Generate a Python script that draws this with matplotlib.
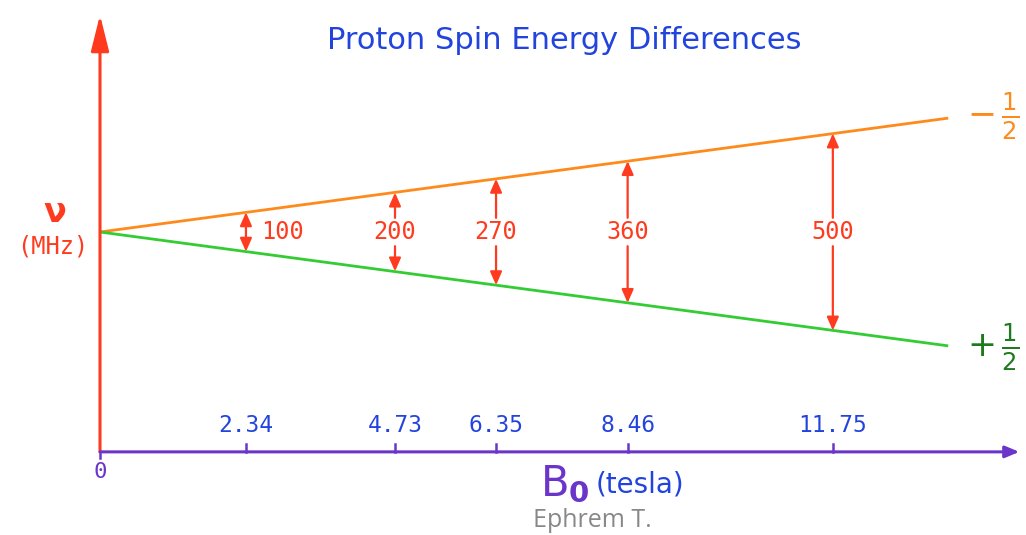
import matplotlib
matplotlib.use("Agg")
import matplotlib.pyplot as plt

# field strengths (tesla) and the matching proton resonance gaps (MHz)
b_fields = [2.34, 4.73, 6.35, 8.46, 11.75]
gaps_mhz = [100, 200, 270, 360, 500]
tick_labels = ["2.34", "4.73", "6.35", "8.46", "11.75"]

# spin levels drawn from B = 0 out to the right edge of the diagram
level_b = [0.0, 13.6]
upper_level = [0.0, 289.0]    # -1/2 state
lower_level = [0.0, -289.0]   # +1/2 state

ORANGE = "#ff8a1c"
GREEN = "#33cc33"
DARK_GREEN = "#1f7a1f"
RED = "#ff3b1f"
PURPLE = "#6a35c8"
BLUE = "#2244dd"

fig = plt.figure(figsize=(10.26, 5.35), dpi=100)
ax = fig.add_axes([0, 0, 1, 1])
ax.set_xlim(-1.6034, 14.847)
ax.set_ylim(-769.0, 588.8)
ax.axis("off")

y_axis_bottom = -558
y_axis_top = 551
x_axis_end = 14.74

# axes drawn as arrows
ax.annotate("", xy=(0, y_axis_top), xytext=(0, y_axis_bottom),
            arrowprops=dict(arrowstyle="-|>,head_length=1.0,head_width=0.25",
                            color=RED, lw=2.2, mutation_scale=22,
                            shrinkA=0, shrinkB=0))
ax.annotate("", xy=(x_axis_end, y_axis_bottom), xytext=(0, y_axis_bottom),
            arrowprops=dict(arrowstyle="-|>,head_length=0.6,head_width=0.25",
                            color=PURPLE, lw=2.2, mutation_scale=14,
                            shrinkA=0, shrinkB=0))

# energy levels
ax.plot(level_b, upper_level, color=ORANGE, lw=2.0, solid_capstyle="butt")
ax.plot(level_b, lower_level, color=GREEN, lw=2.0, solid_capstyle="butt")

# tick marks and labels on the field axis
for b, lab in zip(b_fields, tick_labels):
    ax.plot([b, b], [y_axis_bottom, y_axis_bottom + 20], color=PURPLE, lw=1.8)
    ax.text(b, y_axis_bottom + 38, lab, ha="center", va="bottom",
            color=BLUE, fontsize=16.5, family="DejaVu Sans Mono")
ax.plot([0, 0], [y_axis_bottom, y_axis_bottom - 15], color=PURPLE, lw=1.8)
ax.text(0, y_axis_bottom - 25, "0", ha="center", va="top",
        color=PURPLE, fontsize=16, family="DejaVu Sans Mono")

# gap arrows between the two levels
label_gap = 36
for i, (b, gap) in enumerate(zip(b_fields, gaps_mhz)):
    half = gap / 2
    if i == 0:
        ax.annotate("", xy=(b, half), xytext=(b, -half),
                    arrowprops=dict(arrowstyle="<|-|>,head_length=0.5,head_width=0.22",
                                    color=RED, lw=1.6, mutation_scale=16,
                                    shrinkA=0, shrinkB=0))
        ax.text(b + 0.25, 0, str(gap), ha="left", va="center",
                color=RED, fontsize=17, family="DejaVu Sans Mono")
        continue
    for sign in (1, -1):
        ax.annotate("", xy=(b, sign * half), xytext=(b, sign * label_gap),
                    arrowprops=dict(arrowstyle="-|>,head_length=0.5,head_width=0.22",
                                    color=RED, lw=1.6, mutation_scale=16,
                                    shrinkA=0, shrinkB=0))
    ax.text(b, 0, str(gap), ha="center", va="center",
            color=RED, fontsize=17, family="DejaVu Sans Mono")

# spin state labels
ax.text(13.9, upper_level[1] + 5, r"$-\,\frac{1}{2}$", ha="left", va="center",
        color=ORANGE, fontsize=25)
ax.text(13.9, lower_level[1] - 5, r"$+\,\frac{1}{2}$", ha="left", va="center",
        color=DARK_GREEN, fontsize=25)

# frequency axis label
ax.text(-0.72, 50, "ν", ha="center", va="center", color=RED,
        fontsize=24, fontweight="bold", family="DejaVu Sans")
ax.text(-0.75, -38, "(MHz)", ha="center", va="center", color=RED,
        fontsize=17, family="DejaVu Sans Mono")

# field axis label
ax.text(7.05, -640, r"$\mathrm{B}_{\mathbf{0}}$", ha="left", va="center",
        color=PURPLE, fontsize=30)
ax.text(7.95, -640, "(tesla)", ha="left", va="center",
        color=BLUE, fontsize=20)

fig.text(0.5497, 0.925, "Proton Spin Energy Differences", ha="center",
         va="center", color=BLUE, fontsize=22)
fig.text(0.577, 0.028, "Ephrem T.", ha="center", va="center",
         color="#888888", fontsize=18, family="Open Sans")

fig.savefig("out.png", dpi=100)
